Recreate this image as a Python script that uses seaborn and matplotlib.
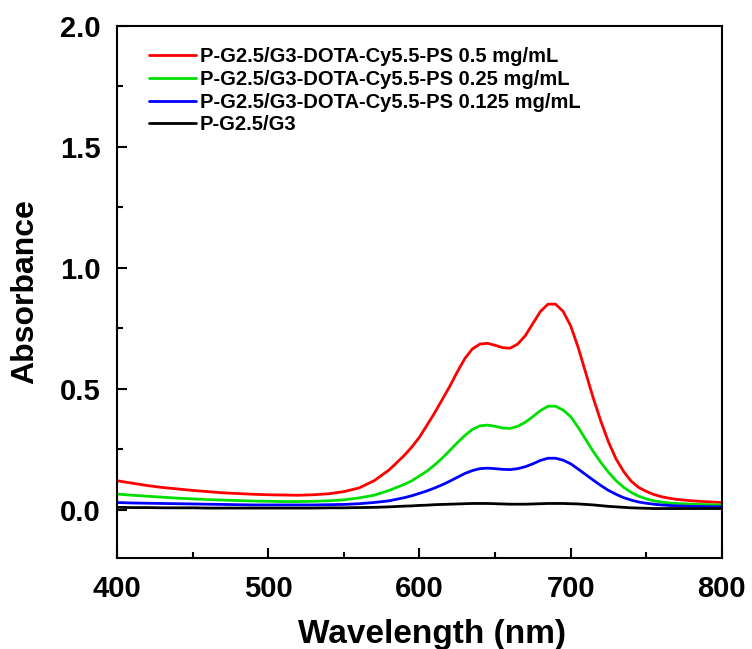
import numpy as np
import pandas as pd
import matplotlib
matplotlib.use("Agg")
import matplotlib.pyplot as plt
import seaborn as sns
from matplotlib.ticker import MultipleLocator, FormatStrFormatter

wavelength = [400, 410, 420, 430, 440, 450, 460, 470, 480, 490, 500, 510, 520, 530, 540,
              550, 560, 570, 580,
              590, 595, 600, 605, 610, 615, 620, 625, 630, 635, 640, 645, 650, 655, 660,
              665, 670, 675, 680, 685, 690, 695, 700, 705, 710, 715, 720, 725, 730, 735,
              740, 745, 750, 755, 760, 765, 770,
              780, 790, 800]

red = [0.120, 0.110, 0.100, 0.092, 0.086, 0.080, 0.075, 0.070, 0.067, 0.064, 0.062, 0.061,
       0.060, 0.062, 0.066, 0.075, 0.090, 0.120, 0.165,
       0.225, 0.260, 0.300, 0.350, 0.400, 0.455, 0.510, 0.570, 0.625, 0.665, 0.685, 0.688,
       0.680, 0.670, 0.668, 0.685, 0.720, 0.770, 0.820, 0.850, 0.850, 0.820, 0.760, 0.670,
       0.565, 0.460, 0.365, 0.280, 0.210, 0.158, 0.118, 0.092, 0.076, 0.063, 0.054, 0.048,
       0.043,
       0.037, 0.033, 0.030]

green = [0.065, 0.060, 0.056, 0.052, 0.048, 0.045, 0.042, 0.040, 0.038, 0.036, 0.035, 0.034,
         0.034, 0.035, 0.037, 0.041, 0.049, 0.060, 0.080,
         0.105, 0.120, 0.140, 0.160, 0.185, 0.213, 0.245, 0.277, 0.307, 0.332, 0.347, 0.350,
         0.345, 0.338, 0.336, 0.345, 0.362, 0.385, 0.410, 0.428, 0.428, 0.412, 0.385, 0.340,
         0.290, 0.240, 0.195, 0.155, 0.120, 0.093, 0.072, 0.056, 0.045, 0.037, 0.032, 0.028,
         0.026,
         0.023, 0.021, 0.020]

blue = [0.030, 0.028, 0.027, 0.026, 0.025, 0.024, 0.023, 0.022, 0.021, 0.020, 0.020, 0.020,
        0.020, 0.020, 0.021, 0.022, 0.025, 0.030, 0.037,
        0.050, 0.058, 0.068, 0.078, 0.090, 0.103, 0.118, 0.134, 0.150, 0.162, 0.170, 0.172,
        0.170, 0.167, 0.166, 0.170, 0.178, 0.190, 0.204, 0.213, 0.213, 0.205, 0.190, 0.168,
        0.145, 0.122, 0.100, 0.080, 0.064, 0.050, 0.040, 0.032, 0.027, 0.023, 0.020, 0.018,
        0.016,
        0.014, 0.013, 0.012]

black = [0.010, 0.009, 0.009, 0.008, 0.008, 0.008, 0.007, 0.007, 0.007, 0.007, 0.007, 0.007,
         0.007, 0.007, 0.008, 0.008, 0.009, 0.010, 0.012,
         0.015, 0.016, 0.018, 0.019, 0.021, 0.022, 0.023, 0.024, 0.025, 0.026, 0.026, 0.026,
         0.025, 0.024, 0.023, 0.023, 0.023, 0.024, 0.025, 0.026, 0.026, 0.026, 0.025, 0.024,
         0.022, 0.020, 0.017, 0.014, 0.012, 0.010, 0.008, 0.007, 0.006, 0.005, 0.005, 0.005,
         0.005,
         0.005, 0.005, 0.005]

labels = ["P-G2.5/G3-DOTA-Cy5.5-PS 0.5 mg/mL",
          "P-G2.5/G3-DOTA-Cy5.5-PS 0.25 mg/mL",
          "P-G2.5/G3-DOTA-Cy5.5-PS 0.125 mg/mL",
          "P-G2.5/G3"]
colors = ["#ff0000", "#00e000", "#0000ff", "#000000"]

frames = []
for lab, vals in zip(labels, [red, green, blue, black]):
    frames.append(pd.DataFrame({"Wavelength": wavelength, "Absorbance": vals, "Sample": lab}))
df = pd.concat(frames, ignore_index=True)

sns.set_style("ticks")
plt.rcParams['font.family'] = ['Liberation Sans', 'DejaVu Sans']
plt.rcParams['font.weight'] = 'bold'
plt.rcParams['text.color'] = 'black'
plt.rcParams['axes.labelcolor'] = 'black'
plt.rcParams['xtick.color'] = 'black'
plt.rcParams['ytick.color'] = 'black'
plt.rcParams['axes.edgecolor'] = 'black'

fig = plt.figure(figsize=(7.52, 6.49), dpi=100)
ax = fig.add_axes([0.1556, 0.140, 0.8044, 0.820])

sns.lineplot(data=df, x="Wavelength", y="Absorbance", hue="Sample",
             hue_order=labels, palette=dict(zip(labels, colors)),
             linewidth=2.0, ax=ax, sort=True, estimator=None)

ax.set_xlim(400, 800)
ax.set_ylim(-0.2, 2.0)
ax.xaxis.set_major_locator(MultipleLocator(100))
ax.xaxis.set_minor_locator(MultipleLocator(50))
ax.yaxis.set_major_locator(MultipleLocator(0.5))
ax.yaxis.set_minor_locator(MultipleLocator(0.25))
ax.yaxis.set_major_formatter(FormatStrFormatter('%.1f'))

ax.tick_params(which='major', direction='in', length=7, width=1.5, labelsize=21, pad=12,
               colors='black')
ax.tick_params(which='minor', direction='in', length=4, width=1.5, colors='black')
for lbl in ax.get_xticklabels() + ax.get_yticklabels():
    lbl.set_fontweight('bold')
for s in ax.spines.values():
    s.set_linewidth(1.5)
    s.set_visible(True)
    s.set_color('black')

ax.set_xlabel("Wavelength (nm)", fontsize=24, fontweight='bold', labelpad=12)
ax.set_ylabel("Absorbance", fontsize=23, fontweight='bold', labelpad=14)
ax.xaxis.label.set_x(0.52)

leg = ax.legend(loc='upper left', frameon=False, fontsize=14.5, handlelength=2.3,
                handletextpad=0.2, labelspacing=0.18, borderaxespad=0.0,
                bbox_to_anchor=(0.04, 0.975))
for t in leg.get_texts():
    t.set_fontweight('bold')
for h in leg.legend_handles:
    h.set_linewidth(2.0)

fig.savefig("out.png", dpi=100)
